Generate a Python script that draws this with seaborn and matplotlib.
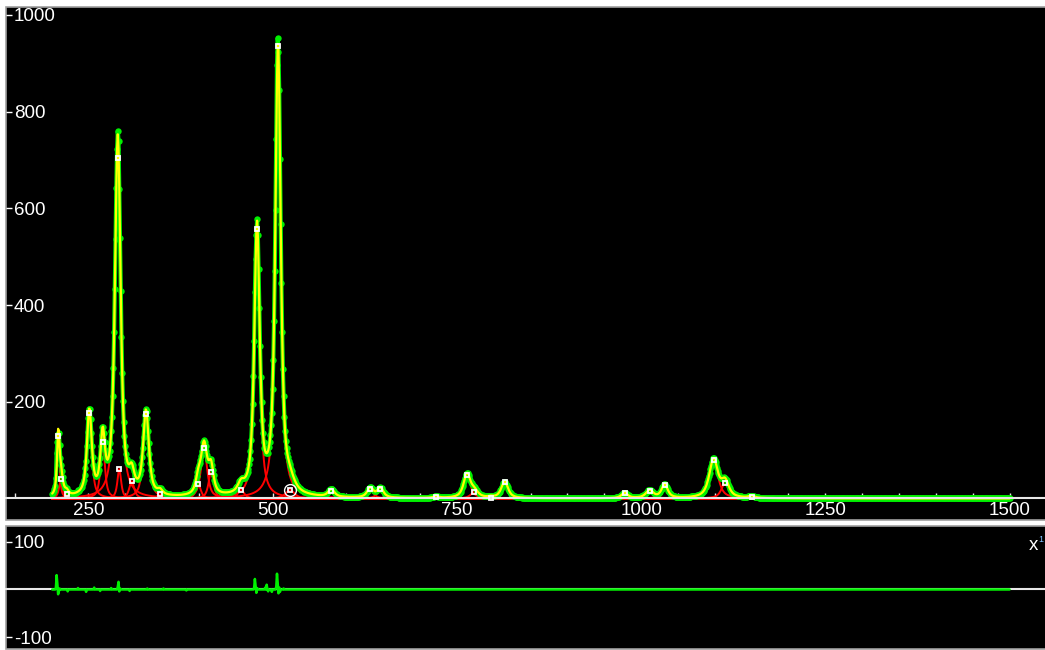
import numpy as np
import pandas as pd
import matplotlib
matplotlib.use("Agg")
import matplotlib.pyplot as plt
from matplotlib.ticker import MultipleLocator, FixedLocator
import seaborn as sns

# Fitted bands: position (cm-1), amplitude (counts), half width at half maximum (cm-1)
band_center = [209.3, 213.0, 220.7, 251.4, 269.5, 289.8, 292.0, 308.9, 328.3, 347.3,
               399.2, 407.0, 416.5, 457.2, 478.9, 507.4, 523.7, 579.7, 632.6, 646.2,
               722.0, 763.8, 773.7, 796.0, 814.9, 977.7, 1011.6, 1032.0, 1098.4, 1114.0,
               1150.0]
band_height = [129, 40, 9, 176, 117, 704, 61, 36, 174, 9,
               30, 104, 55, 18, 557, 935, 18, 16, 20, 20,
               3, 49, 13, 2, 34, 11, 16, 28, 80, 32,
               4]
band_hwhm = [2.0, 3.0, 3.0, 3.8, 3.5, 4.5, 3.0, 4.0, 4.5, 4.0,
             4.0, 5.0, 4.0, 5.0, 4.3, 4.3, 7.0, 5.0, 5.0, 5.0,
             5.0, 5.5, 6.0, 4.0, 5.5, 5.0, 6.0, 5.0, 7.0, 6.0,
             5.0]
selected_band = 16          # band marked with a ring
lorentz_fraction = 0.75     # pseudo-Voigt mixing ratio

# Measured minus fitted intensity at points where it departs from zero
resid_pos = [206, 207, 208, 209, 210, 211, 222, 236, 247, 258, 266, 281,
             290, 291, 292, 293, 306, 330, 352, 383, 475, 476, 477, 478, 479,
             490, 492, 494, 499, 505, 506, 507, 508, 509, 510, 515]
resid_val = [4, 30, 12, -10, -4, 2, -4, 3, -5, 4, -3, 3,
             6, 16, -4, 2, -3, 2, 2, -2, 4, 22, 8, -7, 3,
             4, 10, -4, -5, 6, 33, 12, -8, 4, -5, 2]

# Axis ticks
x_major = [250, 500, 750, 1000, 1250, 1500]
y_main_ticks = [200, 400, 600, 800, 1000]
y_resid_ticks = [-100, 100]

# Spectral grid (cm-1)
wn = np.arange(201, 1501, 1.0)


def band_profile(x, c, h, w, eta=lorentz_fraction):
    u = (x - c) / w
    return h * (eta / (1.0 + u ** 2) + (1 - eta) * np.exp(-np.log(2) * u ** 2))


components = [band_profile(wn, c, h, w) for c, h, w in zip(band_center, band_height, band_hwhm)]
fit = np.sum(components, axis=0)
resid = np.zeros_like(wn)
resid[np.searchsorted(wn, resid_pos)] = resid_val
measured = fit + resid

comp_df = pd.concat(
    [pd.DataFrame({"wn": wn, "I": comp, "band": i}) for i, comp in enumerate(components)],
    ignore_index=True,
)

sns.set_theme(style="white")
plt.rcParams["font.family"] = ["Liberation Sans", "DejaVu Sans"]

GREEN = "#00f000"
YELLOW = "#ffff00"
RED = "#ff0000"
FRAME = "#a0a0a0"
AXIS = "#e8e8e8"

W, H = 1045, 650
fig = plt.figure(figsize=(W / 100, H / 100), dpi=100, facecolor="white")

px_per_unit = 0.737
x_lo = 138.3
x_hi = x_lo + 1041 / px_per_unit

ax = fig.add_axes([6 / W, 130 / H, 1041 / W, 513 / H])
ax2 = fig.add_axes([6 / W, 1 / H, 1041 / W, 123 / H])

for a in (ax, ax2):
    a.set_facecolor("black")
    a.patch.set_edgecolor(FRAME)
    a.patch.set_linewidth(1.2)
    for side in ("top", "right", "left"):
        a.spines[side].set_visible(False)
    a.spines["bottom"].set_position(("data", 0))
    a.spines["bottom"].set_color(AXIS)
    a.spines["bottom"].set_linewidth(1.5)
    a.spines["bottom"].set_zorder(5)
    a.set_xlim(x_lo, x_hi)

# ---- spectrum panel ----
sns.lineplot(data=comp_df, x="wn", y="I", hue="band", palette=[RED] * len(components),
             estimator=None, sort=False, legend=False, lw=1.4, ax=ax, zorder=2)
sns.lineplot(x=wn, y=measured, color=GREEN, lw=3.0, estimator=None, sort=False,
             ax=ax, zorder=3)
sns.scatterplot(x=wn, y=measured, color=GREEN, s=21, linewidth=0, ax=ax, zorder=3)
sns.lineplot(x=wn, y=fit, color=YELLOW, lw=1.6, estimator=None, sort=False,
             ax=ax, zorder=4)
sns.lineplot(x=band_center, y=band_height, marker="s", linestyle="", color="white",
             markersize=3.4, markerfacecolor="none", markeredgecolor="white",
             markeredgewidth=1.3, estimator=None, sort=False, ax=ax, zorder=6)
sns.lineplot(x=[band_center[selected_band]], y=[band_height[selected_band]], marker="o",
             linestyle="", color="white", markersize=8.5, markerfacecolor="none",
             markeredgecolor="white", markeredgewidth=1.0, estimator=None, sort=False,
             ax=ax, zorder=6)

ax.set_ylim(-44.5, 1016.5)
ax.xaxis.set_major_locator(FixedLocator(x_major))
ax.xaxis.set_minor_locator(MultipleLocator(50))
ax.set_xticklabels([str(v) for v in x_major])
ax.tick_params(axis="x", which="both", direction="in", length=3.8, width=1.0,
               color=AXIS, pad=2.5, labelsize=13.5, labelcolor="white", bottom=True)
ax.set_yticks(y_main_ticks)
ax.set_yticklabels([str(v) for v in y_main_ticks])
ax.tick_params(axis="y", direction="in", length=4, width=1.0, color="white",
               pad=-5.5, labelsize=13.5, labelcolor="white", left=True)
plt.setp(ax.get_yticklabels(), ha="left")
ax.set_xlabel("")
ax.set_ylabel("")

# ---- residual panel ----
sns.lineplot(x=wn, y=resid, color=GREEN, lw=1.8, estimator=None, sort=False,
             ax=ax2, zorder=6)
ax2.set_ylim(-124.5, 132.8)
ax2.tick_params(axis="x", bottom=False, labelbottom=False)
ax2.set_yticks(y_resid_ticks)
ax2.set_yticklabels([str(v) for v in y_resid_ticks])
ax2.tick_params(axis="y", direction="in", length=4, width=1.0, color="white",
                pad=-5.5, labelsize=13.5, labelcolor="white", left=True)
plt.setp(ax2.get_yticklabels(), ha="left")
ax2.set_xlabel("")
ax2.set_ylabel("")

fig.text(1029 / W, 1 - 546 / H, "x", color="white", fontsize=13.5, va="center", ha="left")
fig.text(1038 / W, 1 - 539 / H, "1", color="#80c0ff", fontsize=6.5, va="center", ha="left")

fig.savefig("out.png", dpi=100, facecolor="white")
